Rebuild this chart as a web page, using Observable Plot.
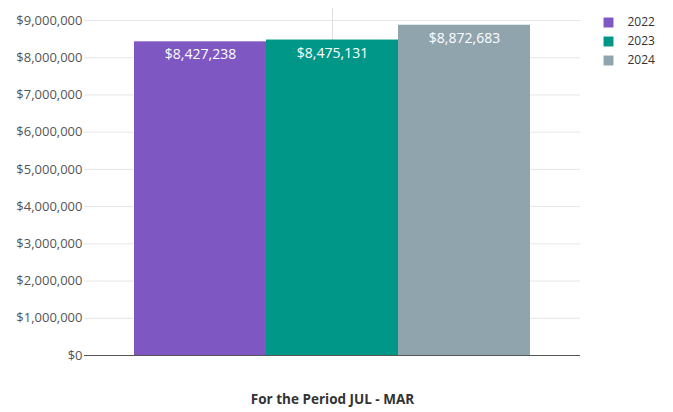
<!DOCTYPE html>
<html>
<head>
<meta charset="utf-8">
<script src="https://cdn.jsdelivr.net/npm/d3@7"></script>
<script src="https://cdn.jsdelivr.net/npm/@observablehq/plot@0.6"></script>
<style>
  html, body { margin: 0; padding: 0; background: #fff; }
  #chart { width: 673px; height: 412px; }
</style>
</head>
<body>
<div id="chart"></div>
<script>
const years = ["2022", "2023", "2024"];
const values = [8427238, 8475131, 8872683];
const colors = ["#7E57C2", "#009688", "#90A4AE"];
const yTicks = [0, 1000000, 2000000, 3000000, 4000000, 5000000, 6000000, 7000000, 8000000, 9000000];
const caption = "For the Period JUL - MAR";

const data = years.map((y, i) => ({year: y, value: values[i]}));
const fmt = d3.format("$,");

const legendMarks = [];
years.forEach((y, i) => {
  legendMarks.push(Plot.dot([y], {frameAnchor: "top-right", dx: 28, dy: 2 + 19 * i, symbol: "square", r: 5.6, fill: colors[i], stroke: "none"}));
  legendMarks.push(Plot.text([y], {text: d => d, frameAnchor: "top-right", dx: 47, dy: 2 + 19 * i, textAnchor: "start", lineAnchor: "middle", fontSize: 12, fill: "#333"}));
});

const chart = Plot.plot({
  width: 673,
  height: 412,
  marginTop: 20,
  marginBottom: 57,
  marginLeft: 84,
  marginRight: 93,
  style: {fontFamily: "'Open Sans', sans-serif", fontSize: "13px", color: "#555", background: "#fff"},
  x: {domain: years, paddingInner: 0, paddingOuter: 0.374, axis: null},
  y: {domain: [0, 9000000], ticks: yTicks, tickFormat: fmt, label: null, tickSize: 0, tickPadding: 2},
  color: {domain: years, range: colors},
  marks: [
    Plot.gridY(yTicks, {stroke: "#e6e6e6", strokeOpacity: 1}),
    Plot.ruleX(["2023"], {stroke: "#e0e0e0", insetTop: -12}),
    Plot.barY(data, {x: "year", y: "value", fill: "year"}),
    Plot.ruleY([0], {stroke: "#555"}),
    Plot.axisY({ticks: yTicks, tickFormat: fmt, tickSize: 0, tickPadding: 2, fontSize: 13, fill: "#555", label: null}),
    Plot.text(data, {x: "year", y: "value", text: d => fmt(d.value), dy: 13, fill: "#fff", fontSize: 14}),
    Plot.text([caption], {text: d => d, frameAnchor: "bottom", dy: 44, lineAnchor: "middle", fontSize: 13.5, fontWeight: "bold", fill: "#333"}),
    ...legendMarks
  ]
});
document.getElementById("chart").appendChild(chart);
</script>
</body>
</html>
